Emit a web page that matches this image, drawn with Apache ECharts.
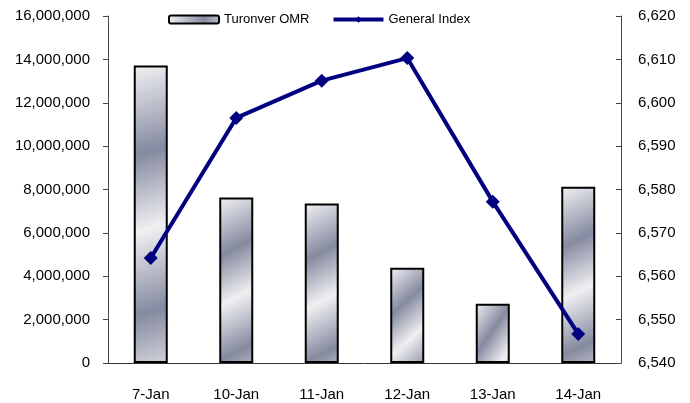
<!DOCTYPE html>
<html>
<head>
<meta charset="utf-8">
<script src="https://cdn.jsdelivr.net/npm/echarts@6/dist/echarts.min.js"></script>
<style>html,body{margin:0;padding:0;background:#fff}#c{width:690px;height:403px}</style>
</head>
<body>
<div id="c"></div>
<script>
var categories = ['7-Jan', '10-Jan', '11-Jan', '12-Jan', '13-Jan', '14-Jan'];
var turnover = [13720000, 7630000, 7350000, 4390000, 2730000, 8130000];
var generalIndex = [6564.2, 6596.5, 6605.1, 6610.3, 6577.2, 6546.7];
var leftTicks = { min: 0, max: 16000000, interval: 2000000 };
var rightTicks = { min: 6540, max: 6620, interval: 10 };

var font = 'Arial, "Liberation Sans", sans-serif';
function fmt(v) { return Math.round(v).toString().replace(/\B(?=(\d{3})+(?!\d))/g, ','); }

var chart = echarts.init(document.getElementById('c'), null, { renderer: 'canvas' });
chart.setOption({
  animation: false,
  backgroundColor: '#fff',
  grid: { left: 108, right: 69, top: 16, bottom: 40, containLabel: false },
  legend: {
    left: 163, top: 8,
    itemWidth: 50, itemHeight: 8, itemGap: 22,
    textStyle: { fontFamily: font, fontSize: 13, color: '#000', padding: [0, 0, 0, 0] },
    data: [
      { name: 'Turonver OMR' },
      { name: 'General Index', lineStyle: { width: 4, color: '#000080' } }
    ]
  },
  xAxis: {
    type: 'category', data: categories,
    axisLine: { lineStyle: { color: '#333', width: 1 } },
    axisTick: { show: false },
    axisLabel: { fontFamily: font, fontSize: 15, color: '#000', margin: 24 }
  },
  yAxis: [{
    type: 'value', min: leftTicks.min, max: leftTicks.max, interval: leftTicks.interval,
    axisLine: { show: true, lineStyle: { color: '#444' } },
    axisTick: { show: true, length: 5, lineStyle: { color: '#444' } },
    splitLine: { show: false },
    axisLabel: { fontFamily: font, fontSize: 15, color: '#000', margin: 18, formatter: fmt }
  }, {
    type: 'value', position: 'right', min: rightTicks.min, max: rightTicks.max, interval: rightTicks.interval,
    axisLine: { show: true, lineStyle: { color: '#444' } },
    axisTick: { show: true, inside: true, length: 5, lineStyle: { color: '#444' } },
    splitLine: { show: false },
    axisLabel: { fontFamily: font, fontSize: 15, color: '#000', margin: 17, formatter: fmt }
  }],
  series: [{
    name: 'Turonver OMR', type: 'bar', yAxisIndex: 0, data: turnover, barWidth: 34,
    itemStyle: {
      borderColor: '#000', borderWidth: 2,
      color: new echarts.graphic.LinearGradient(0, 0, 2.5, 1, [
        { offset: 0, color: '#f2f2f4' },
        { offset: 0.28, color: '#858aa0' },
        { offset: 0.52, color: '#f0f0f2' },
        { offset: 0.78, color: '#858aa0' },
        { offset: 1, color: '#e4e4e8' }
      ])
    }
  }, {
    name: 'General Index', type: 'line', yAxisIndex: 1, data: generalIndex,
    symbol: 'diamond', symbolSize: 14,
    lineStyle: { color: '#000080', width: 4 },
    itemStyle: { color: '#000080' }
  }]
});
</script>
</body>
</html>
